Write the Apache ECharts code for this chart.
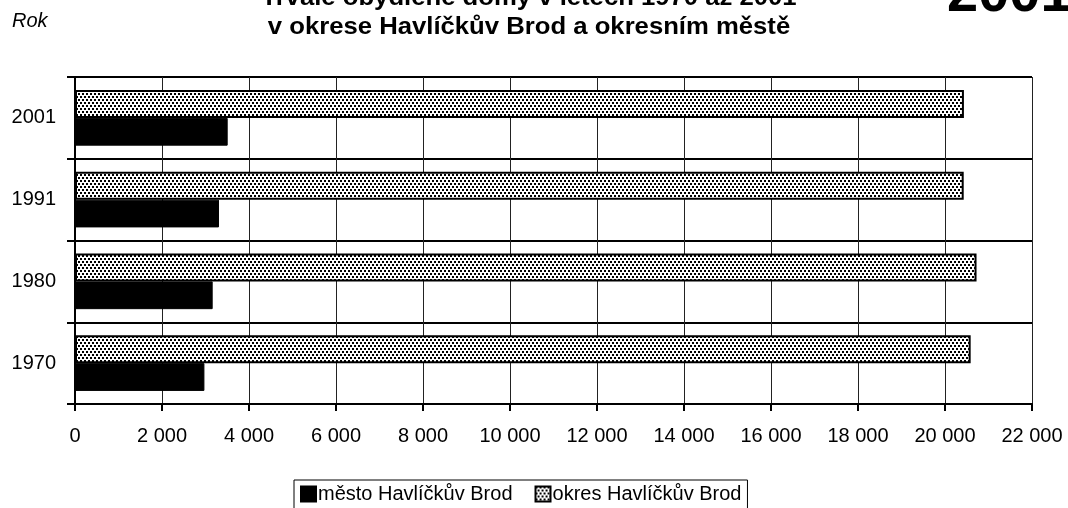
<!DOCTYPE html>
<html>
<head>
<meta charset="utf-8">
<script src="https://cdn.jsdelivr.net/npm/echarts@6/dist/echarts.min.js"></script>
<style>
html, body { margin: 0; padding: 0; background: #fff; }
#chart { width: 1068px; height: 508px; }
</style>
</head>
<body>
<div id="chart"></div>
<script>
// roky (kategorie odspodu nahoru)
const years = ['1970', '1980', '1991', '2001']
const mesto = [2975, 3165, 3310, 3510]
const okres = [20590, 20725, 20430, 20435]
const xTicks = [0, 2000, 4000, 6000, 8000, 10000, 12000, 14000, 16000, 18000, 20000, 22000]

// teckovany vzor pro okres
function makePattern() {
    const c = document.createElement('canvas')
    c.width = 8
    c.height = 6
    const ctx = c.getContext('2d')
    ctx.fillStyle = '#fff'
    ctx.fillRect(0, 0, 8, 6)
    ctx.fillStyle = '#000'
    const dots = [[0, 0], [4, 0], [2, 3], [6, 3]]
    dots.forEach(d => ctx.fillRect(d[0], d[1], 2, 2))
    return c
}
const pattern = { image: makePattern(), repeat: 'repeat' }

const fmt = v => v === 0 ? '0' : String(v).replace(/\B(?=(\d{3})+(?!\d))/g, ' ')

const chart = echarts.init(document.getElementById('chart'))
const option = {
    animation: false,
    textStyle: { fontFamily: 'Liberation Sans, Arial, sans-serif', color: '#000' },
    graphic: [
        {
            type: 'text', left: 12, top: 11,
            style: { text: 'Rok', fontSize: 20, fontStyle: 'italic', fill: '#000', fontFamily: 'Liberation Sans' }
        },
        {
            type: 'text', x: 529, y: -16, scaleX: 1.07,
            style: {
                text: 'Trvale obydlené domy v letech 1970 až 2001\nv okrese Havlíčkův Brod a okresním městě',
                fontSize: 24, fontWeight: 'bold', lineHeight: 29, align: 'center', verticalAlign: 'top',
                fill: '#000', fontFamily: 'Liberation Sans'
            }
        },
        {
            type: 'text', x: 947, y: -4,
            style: { text: '2001', fontSize: 56, fontWeight: 'bold', verticalAlign: 'middle', fill: '#000', fontFamily: 'Liberation Sans' }
        }
    ],
    legend: {
        bottom: -6,
        left: 294,
        itemWidth: 15,
        itemHeight: 15,
        itemGap: 22,
        borderColor: '#000',
        borderWidth: 1,
        borderRadius: 0,
        padding: [4, 6, 10, 6],
        textStyle: { fontSize: 20, color: '#000', padding: [0, 0, 0, -3] },
        data: [
            { name: 'město Havlíčkův Brod', icon: 'rect' },
            { name: 'okres Havlíčkův Brod', icon: 'rect' }
        ]
    },
    grid: { left: 75, right: 36, top: 77, bottom: 104, containLabel: false },
    xAxis: {
        type: 'value',
        min: 0,
        max: 22000,
        interval: 2000,
        axisLine: { show: true, lineStyle: { color: '#000', width: 2 } },
        axisTick: { show: true, length: 7, inside: false, lineStyle: { color: '#000', width: 2 } },
        axisLabel: { fontSize: 20, color: '#000', margin: 22, formatter: v => xTicks.includes(v) ? fmt(v) : '' },
        splitLine: { show: true, lineStyle: { color: '#222', width: 1 } }
    },
    yAxis: {
        type: 'category',
        data: years,
        axisLine: { show: true, lineStyle: { color: '#000', width: 2 } },
        axisTick: { show: true, length: 8, alignWithLabel: false, lineStyle: { color: '#000', width: 2 } },
        axisLabel: { fontSize: 20, color: '#000', margin: 19 },
        splitLine: { show: true, interval: 0, lineStyle: { color: '#000', width: 2 } }
    },
    series: [
        {
            name: 'okres Havlíčkův Brod',
            type: 'bar',
            data: okres,
            barGap: '0%',
            barCategoryGap: '32%',
            itemStyle: { color: pattern, borderColor: '#000', borderWidth: 2 }
        },
        {
            name: 'město Havlíčkův Brod',
            type: 'bar',
            data: mesto,
            itemStyle: { color: '#000', borderColor: '#000', borderWidth: 1 }
        }
    ]
}
chart.setOption(option)
</script>
</body>
</html>
